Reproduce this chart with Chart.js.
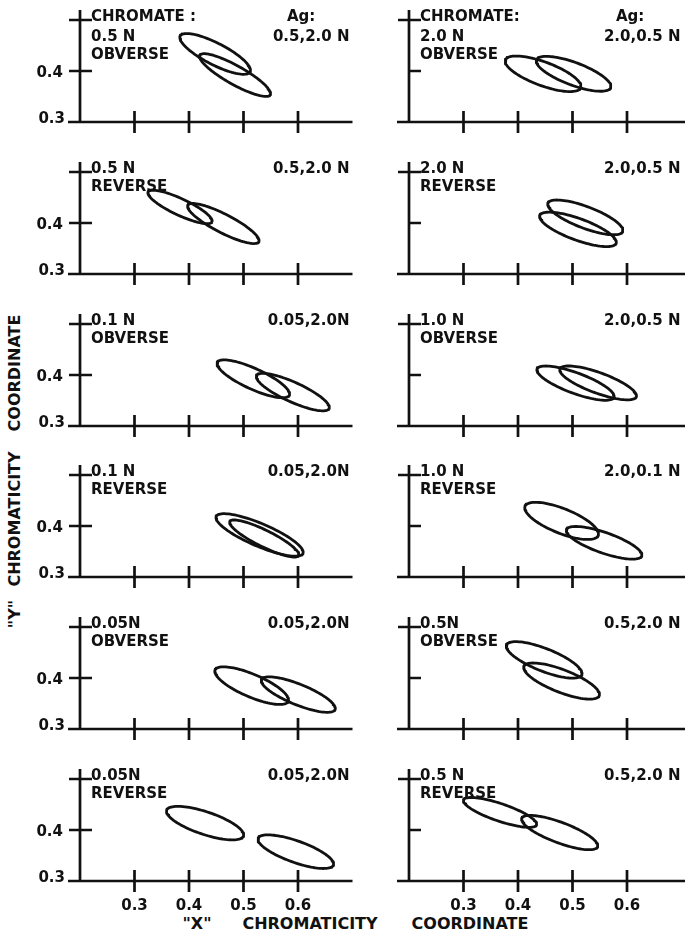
<!DOCTYPE html>
<html>
<head>
<meta charset="utf-8">
<script src="https://cdn.jsdelivr.net/npm/chart.js@4.4.1/dist/chart.umd.min.js"></script>
<style>
  body { margin: 0; background: #fff; width: 685px; height: 935px; overflow: hidden; position: relative; }
  canvas { position: absolute; }
  .title { position: absolute; font-family: "DejaVu Sans", sans-serif; font-weight: bold; font-size: 16px; color: #111; white-space: nowrap; line-height: 1; }
  .xt { transform: translateX(-50%); }
  .yt { transform: translate(-50%, -50%) rotate(-90deg); }
</style>
</head>
<body>
<div class="title xt" style="left:197px; top:916px;">"X"</div>
<div class="title xt" style="left:310px; top:916px;">CHROMATICITY</div>
<div class="title xt" style="left:470px; top:916px;">COORDINATE</div>
<div class="title yt" style="left:15px; top:614px;">"Y"</div>
<div class="title yt" style="left:15px; top:519px;">CHROMATICITY</div>
<div class="title yt" style="left:15px; top:373px;">COORDINATE</div>

<script>
// tick values shared by every panel
const xTicks = [0.3, 0.4, 0.5, 0.6];
const yTicks = [0.3, 0.4, 0.5];
const yTickLabels = ["0.3", "0.4"];

// panel labels, read left to right, top to bottom
const chromateNormality = ["0.5 N", "2.0 N", "0.5 N", "2.0 N", "0.1 N", "1.0 N",
                           "0.1 N", "1.0 N", "0.05N", "0.5N", "0.05N", "0.5 N"];
const panelSide = ["OBVERSE", "OBVERSE", "REVERSE", "REVERSE", "OBVERSE", "OBVERSE",
                   "REVERSE", "REVERSE", "OBVERSE", "OBVERSE", "REVERSE", "REVERSE"];
const silverNormality = ["0.5,2.0 N", "2.0,0.5 N", "0.5,2.0 N", "2.0,0.5 N", "0.05,2.0N", "2.0,0.5 N",
                         "0.05,2.0N", "2.0,0.1 N", "0.05,2.0N", "0.5,2.0 N", "0.05,2.0N", "0.5,2.0 N"];

// ellipses: [x1, y1, x2, y2, half width] -> ends of the long axis in x,y chromaticity
const ellipseOne = [
  [0.384, 0.469, 0.512, 0.398, 0.021],
  [0.377, 0.422, 0.515, 0.367, 0.023],
  [0.325, 0.461, 0.442, 0.402, 0.016],
  [0.455, 0.439, 0.592, 0.383, 0.021],
  [0.452, 0.425, 0.584, 0.360, 0.020],
  [0.435, 0.412, 0.576, 0.356, 0.020],
  [0.450, 0.419, 0.609, 0.346, 0.022],
  [0.413, 0.439, 0.547, 0.381, 0.024],
  [0.448, 0.416, 0.582, 0.354, 0.022],
  [0.379, 0.465, 0.517, 0.406, 0.022],
  [0.359, 0.439, 0.500, 0.388, 0.022],
  [0.300, 0.459, 0.434, 0.410, 0.017]
];
const ellipseTwo = [
  [0.420, 0.431, 0.549, 0.353, 0.018],
  [0.434, 0.422, 0.570, 0.367, 0.022],
  [0.398, 0.435, 0.528, 0.363, 0.018],
  [0.440, 0.415, 0.580, 0.360, 0.021],
  [0.524, 0.399, 0.657, 0.334, 0.019],
  [0.477, 0.412, 0.617, 0.357, 0.020],
  [0.475, 0.409, 0.601, 0.342, 0.016],
  [0.489, 0.393, 0.627, 0.341, 0.020],
  [0.533, 0.397, 0.668, 0.338, 0.020],
  [0.411, 0.423, 0.549, 0.365, 0.022],
  [0.527, 0.384, 0.665, 0.331, 0.021],
  [0.407, 0.423, 0.546, 0.367, 0.020]
];

const ink = "#111";
const font = 'bold 15px "DejaVu Sans", sans-serif';
const rowTops = [0, 152, 304, 455, 607, 759];

// outline of an ellipse as a list of points, starting on a flat side
function ellipsePoints(e) {
  const cx = (e[0] + e[2]) / 2, cy = (e[1] + e[3]) / 2;
  const ux = (e[2] - e[0]) / 2, uy = (e[3] - e[1]) / 2;
  const len = Math.hypot(ux, uy);
  const nx = -uy / len * e[4], ny = ux / len * e[4];
  const pts = [];
  for (let i = 0; i <= 96; i++) {
    const t = Math.PI / 2 + i / 96 * Math.PI * 2;
    pts.push({ x: cx + ux * Math.cos(t) + nx * Math.sin(t), y: cy + uy * Math.cos(t) + ny * Math.sin(t) });
  }
  return pts;
}

// draws the crossed axes and the lettering of one panel
const panelAxes = {
  id: "panelAxes",
  afterDraw(chart) {
    const o = chart.options.plugins.panelAxes;
    const ctx = chart.ctx, xs = chart.scales.x, ys = chart.scales.y;
    const x0 = xs.getPixelForValue(0.2);
    const y0 = ys.getPixelForValue(0.3);
    const yTop = ys.getPixelForValue(0.5);
    ctx.save();
    ctx.strokeStyle = ink;
    ctx.lineWidth = 2.7;
    ctx.beginPath();
    ctx.moveTo(x0 - 12, y0);
    ctx.lineTo(xs.getPixelForValue(o.col === 0 ? 0.7 : 0.71), y0);
    ctx.moveTo(x0, y0);
    ctx.lineTo(x0, yTop - 10);
    xTicks.forEach(v => {
      const p = xs.getPixelForValue(v);
      ctx.moveTo(p, y0 - 11);
      ctx.lineTo(p, y0 + 11);
    });
    yTicks.slice(1).forEach(v => {
      const p = ys.getPixelForValue(v);
      const left = (o.col === 0 || v === 0.5) ? 11 : 0;
      ctx.moveTo(x0 - left, p);
      ctx.lineTo(x0 + 12, p);
    });
    ctx.stroke();

    ctx.fillStyle = ink;
    ctx.font = font;
    // left-hand labels
    ctx.textAlign = "left";
    const lines = o.row === 0
      ? [o.col === 0 ? "CHROMATE :" : "CHROMATE:", chromateNormality[o.i], panelSide[o.i]]
      : [chromateNormality[o.i], panelSide[o.i]];
    const gaps = o.row === 0 ? [1, 20.5, 38.5] : [1, 18.5];
    lines.forEach((s, k) => ctx.fillText(s, x0 + 11, yTop + gaps[k]));
    // silver labels
    ctx.textAlign = "right";
    const rightEdge = xs.getPixelForValue(0.7) - (o.col === 0 ? 3 : 1);
    if (o.row === 0) {
      ctx.textAlign = "left";
      ctx.fillText("Ag:", x0 + 207, yTop + 1);
      ctx.textAlign = "right";
      ctx.fillText(silverNormality[o.i], rightEdge, yTop + 20.5);
    } else {
      ctx.fillText(silverNormality[o.i], rightEdge, yTop + 1);
    }
    // tick labels on the outer edges only
    if (o.col === 0) {
      ctx.textAlign = "right";
      ctx.fillText(yTickLabels[0], x0 - 15, y0 + 1);
      ctx.fillText(yTickLabels[1], x0 - 17, ys.getPixelForValue(0.4) + 6);
    }
    if (o.row === 5) {
      ctx.textAlign = "center";
      xTicks.forEach(v => ctx.fillText(v.toFixed(1), xs.getPixelForValue(v), y0 + 29));
    }
    ctx.restore();
  }
};

for (let i = 0; i < 12; i++) {
  const row = Math.floor(i / 2), col = i % 2;
  const canvas = document.createElement("canvas");
  const w = col === 0 ? 360 : 325;
  const h = row === 5 ? 176 : 152;
  canvas.width = w;
  canvas.height = h;
  canvas.style.left = (col === 0 ? 0 : 360) + "px";
  canvas.style.top = rowTops[row] + "px";
  document.body.appendChild(canvas);

  new Chart(canvas.getContext("2d"), {
    type: "scatter",
    data: {
      datasets: [ellipseOne[i], ellipseTwo[i]].map(e => ({
        data: ellipsePoints(e),
        showLine: true,
        borderColor: ink,
        borderWidth: 2.8,
        borderCapStyle: "round",
        borderJoinStyle: "round",
        pointRadius: 0,
        fill: false,
        clip: false
      }))
    },
    options: {
      responsive: false,
      animation: false,
      devicePixelRatio: 1,
      layout: {
        padding: col === 0
          ? { left: 80, right: 7.5, top: 20, bottom: h - 122 }
          : { left: 49, right: 3.5, top: 20, bottom: h - 122 }
      },
      scales: {
        x: { type: "linear", min: 0.2, max: 0.7, display: false },
        y: { type: "linear", min: 0.3, max: 0.5, display: false }
      },
      plugins: {
        legend: { display: false },
        tooltip: { enabled: false },
        panelAxes: { i: i, row: row, col: col }
      }
    },
    plugins: [panelAxes]
  });
}
</script>
</body>
</html>
